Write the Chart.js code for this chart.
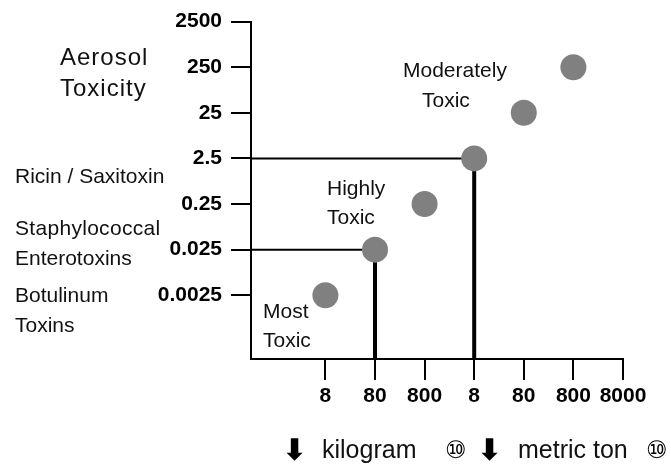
<!DOCTYPE html>
<html>
<head>
<meta charset="utf-8">
<script src="https://cdn.jsdelivr.net/npm/chart.js@4"></script>
<style>
  html, body { margin: 0; padding: 0; background: #fff; }
  #wrap { width: 671px; height: 466px; position: relative; }
</style>
</head>
<body>
<div id="wrap"><canvas id="myChart"></canvas></div>
<script>
"use strict";
// x axis: quantity ticks (first three kilogram, rest metric ton)
const xLabels = ['8', '80', '800', '8', '80', '800', '8000'];
const xTicks = [0, 1, 2, 3, 4, 5, 6];
// y axis: aerosol toxicity (log)
const yTicks = [0.0025, 0.025, 0.25, 2.5, 25, 250, 2500];
const yTickLabels = ['0.0025', '0.025', '0.25', '2.5', '25', '250', '2500'];
// agent points
const agentX = [0, 1, 2, 3, 4, 5];
const agentY = [0.0025, 0.025, 0.25, 2.5, 25, 250];
// points that get the drop lines
const dropIdx = [1, 3];

const xMin = -1.5, xMax = 6;
const yMin = 0.0001, yMax = 2500;

const tickFont = { family: 'Liberation Sans', size: 21, weight: 'bold' };

let dropSets = [];
dropIdx.forEach(i => {
  dropSets.push({
    data: [{ x: xMin, y: agentY[i] }, { x: agentX[i], y: agentY[i] }],
    showLine: true, borderColor: '#000', borderWidth: 2, pointRadius: 0
  });
  dropSets.push({
    data: [{ x: agentX[i], y: agentY[i] }, { x: agentX[i], y: yMin }],
    showLine: true, borderColor: '#000', borderWidth: 4, pointRadius: 0
  });
});

const notes = [
  ['Aerosol', 60, 65, 24, 1],
  ['Toxicity', 60, 96, 24, 1],
  ['Ricin / Saxitoxin', 15, 183, 21, 0],
  ['Staphylococcal', 15, 235, 21, 0.3],
  ['Enterotoxins', 15, 265, 21, 0],
  ['Botulinum', 15, 302, 21, 0],
  ['Toxins', 15, 332, 21, 0],
  ['Moderately', 403, 77, 21, 0],
  ['Toxic', 422, 107, 21, 0],
  ['Highly', 327, 195, 21, 0],
  ['Toxic', 327, 224, 21, 0],
  ['Most', 263, 318, 21, 0],
  ['Toxic', 263, 347, 21, 0],
  ['kilogram', 322, 458, 25, 0],
  ['metric ton', 518, 458, 25, 0]
];
const symbols = [
  ['\u2B07', 282, 460, 'bold 30px "DejaVu Sans"'],
  ['\u2469', 445, 458, '24px "DejaVu Sans"'],
  ['\u2B07', 477, 460, 'bold 30px "DejaVu Sans"'],
  ['\u2469', 646, 458, '24px "DejaVu Sans"']
];

const notesPlugin = {
  id: 'notes',
  afterDraw(chart) {
    const c = chart.ctx;
    c.save();
    c.fillStyle = '#111';
    c.textAlign = 'left';
    c.textBaseline = 'alphabetic';
    notes.forEach(n => {
      c.font = n[3] + 'px "Liberation Sans"';
      c.letterSpacing = n[4] + 'px';
      c.fillText(n[0], n[1], n[2]);
    });
    c.letterSpacing = '0px';
    c.fillStyle = '#000';
    symbols.forEach(s => {
      c.font = s[3];
      c.fillText(s[0], s[1], s[2]);
    });
    c.restore();
  }
};

const myChart = new Chart(document.getElementById('myChart'), {
  type: 'scatter',
  plugins: [notesPlugin],
  data: {
    datasets: [{
      data: agentX.map((x, i) => ({ x: x, y: agentY[i] })),
      backgroundColor: '#808080',
      borderWidth: 0,
      pointRadius: 13,
      pointHoverRadius: 13
    }].concat(dropSets)
  },
  options: {
    responsive: true,
    maintainAspectRatio: false,
    animation: false,
    events: [],
    layout: { padding: { left: 0, top: 20, right: 48, bottom: 0 } },
    plugins: { legend: { display: false }, tooltip: { enabled: false } },
    scales: {
      x: {
        type: 'linear',
        min: xMin,
        max: xMax,
        afterBuildTicks: scale => { scale.ticks = xTicks.map(v => ({ value: v })); },
        afterFit: scale => { scale.height = 107; },
        ticks: {
          callback: (v, i) => xLabels[i],
          font: tickFont,
          color: '#000',
          padding: 4,
          maxRotation: 0,
          autoSkip: false
        },
        grid: { drawOnChartArea: false, color: '#000', lineWidth: 2, tickLength: 21 },
        border: { color: '#000', width: 2 }
      },
      y: {
        type: 'logarithmic',
        min: yMin,
        max: yMax,
        afterBuildTicks: scale => { scale.ticks = yTicks.map(v => ({ value: v })); },
        afterFit: scale => { scale.width = 251; },
        ticks: {
          callback: (v, i) => yTickLabels[i],
          font: tickFont,
          color: '#000',
          padding: 9,
          autoSkip: false
        },
        grid: { drawOnChartArea: false, color: '#000', lineWidth: 2, tickLength: 20 },
        border: { color: '#000', width: 2 }
      }
    }
  }
});
</script>
</body>
</html>
